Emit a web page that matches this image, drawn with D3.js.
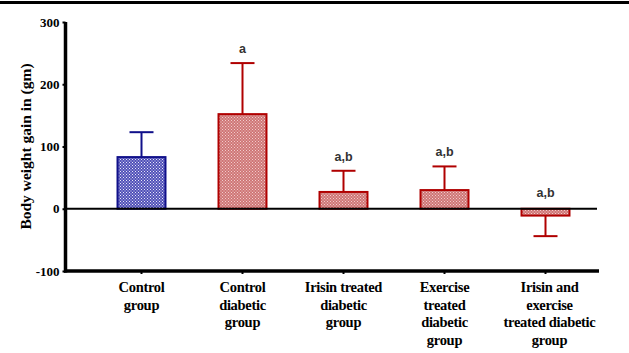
<!DOCTYPE html>
<html><head><meta charset="utf-8">
<script src="https://cdn.jsdelivr.net/npm/d3@7/dist/d3.min.js"></script>
<style>body{margin:0;background:#fff}svg{display:block}</style>
</head><body>
<svg id="c" width="629" height="353"></svg>
<script>
const categories = [
  ["Control", "group"],
  ["Control", "diabetic", "group"],
  ["Irisin treated", "diabetic", "group"],
  ["Exercise", "treated", "diabetic", "group"],
  ["Irisin and", "exercise", "treated diabetic", "group"]
];
const means = [83, 152, 27, 30, -11];
const errors = [40, 82, 34, 38, 33];
const letters = ["", "a", "a,b", "a,b", "a,b"];
const groupType = ["control", "diabetic", "diabetic", "diabetic", "diabetic"];
const yTicks = [300, 200, 100, 0, -100];

const svg = d3.select("#c");
const defs = svg.append("defs");
function pat(id, bg, dot) {
  const p = defs.append("pattern").attr("id", id).attr("patternUnits", "userSpaceOnUse")
    .attr("width", 3).attr("height", 3);
  p.append("rect").attr("width", 3).attr("height", 3).attr("fill", bg);
  p.append("rect").attr("x", 0).attr("y", 0).attr("width", 1).attr("height", 1).attr("fill", dot);
  p.append("rect").attr("x", 1.5).attr("y", 1.5).attr("width", 1).attr("height", 1).attr("fill", dot);
}
pat("pb", "#5050b8", "#e8e8f8");
pat("pr", "#cf7676", "#f2cccc");
const style = {
  control: {stroke: "#10108a", fill: "url(#pb)"},
  diabetic: {stroke: "#b00000", fill: "url(#pr)"}
};
const serif = "Liberation Serif, Times New Roman, serif";

// top border
svg.append("line").attr("x1", 0).attr("x2", 629).attr("y1", 2.5).attr("y2", 2.5)
  .attr("stroke", "#000").attr("stroke-width", 3);

const y = d3.scaleLinear().domain([-100, 300]).range([271, 22]);
const x = d3.scaleBand().domain(d3.range(categories.length)).range([91, 596]);
const bw = x.bandwidth() * 0.475;
const cx = i => x(i) + x.bandwidth() / 2;

// bars
const g = svg.append("g");
means.forEach((m, i) => {
  const s = style[groupType[i]];
  const top = y(Math.max(0, m)), bot = y(Math.min(0, m));
  const ey = y(m + Math.sign(m) * errors[i]);
  const ey0 = m >= 0 ? top : bot;
  g.append("line").attr("x1", cx(i)).attr("x2", cx(i)).attr("y1", ey0).attr("y2", ey)
    .attr("stroke", s.stroke).attr("stroke-width", 2);
  g.append("line").attr("x1", cx(i) - 12).attr("x2", cx(i) + 12).attr("y1", ey).attr("y2", ey)
    .attr("stroke", s.stroke).attr("stroke-width", 2);
  g.append("rect").attr("x", cx(i) - bw / 2).attr("y", top).attr("width", bw).attr("height", bot - top)
    .attr("fill", s.fill).attr("stroke", s.stroke).attr("stroke-width", 2);
  if (letters[i]) {
    const ly = m >= 0 ? ey - 10 : y(0) - 12;
    g.append("text").attr("x", cx(i)).attr("y", ly).attr("text-anchor", "middle")
      .attr("font-family", "Liberation Sans, Arial, sans-serif").attr("font-weight", "bold")
      .attr("font-size", 12.5).attr("fill", "#333").text(letters[i]);
  }
});

// zero line
svg.append("line").attr("x1", 65).attr("x2", 597).attr("y1", y(0)).attr("y2", y(0))
  .attr("stroke", "#000").attr("stroke-width", 2);

// y axis
const yAxis = d3.axisLeft(y).tickValues(yTicks).tickSize(3).tickPadding(3).tickFormat(d => String(d));
const ya = svg.append("g").attr("transform", "translate(65.5,0)").call(yAxis);
ya.select(".domain").attr("stroke-width", 3.5).attr("d", "M0," + y(300) + "V" + (y(-100) + 1.5));
ya.selectAll(".tick line").attr("stroke-width", 2);
ya.selectAll("text").attr("font-family", serif)
  .attr("font-weight", "bold").attr("font-size", 13).attr("fill", "#000");

// bottom axis
const xAxis = d3.axisBottom(x).tickSize(3).tickFormat("");
const xa = svg.append("g").attr("transform", "translate(0," + y(-100) + ")").call(xAxis);
xa.select(".domain").attr("stroke-width", 3.5).attr("d", "M64,0H599");
xa.selectAll(".tick line").attr("stroke-width", 2);

// category labels
categories.forEach((lines, i) => {
  const t = svg.append("text").attr("text-anchor", "middle")
    .attr("font-family", serif).attr("font-weight", "bold")
    .attr("font-size", 14.5).attr("fill", "#000").attr("letter-spacing", -0.3);
  lines.forEach((l, j) => t.append("tspan").attr("x", cx(i) + (i === 4 ? 4 : 0)).attr("y", 292 + j * 17.5).text(l));
});

// y title
svg.append("text").attr("transform", "translate(31," + ((y(300) + y(-100)) / 2) + ") rotate(-90)")
  .attr("text-anchor", "middle").attr("font-family", serif)
  .attr("font-weight", "bold").attr("font-size", 15.5).text("Body weight gain in (gm)");
</script>
</body></html>
